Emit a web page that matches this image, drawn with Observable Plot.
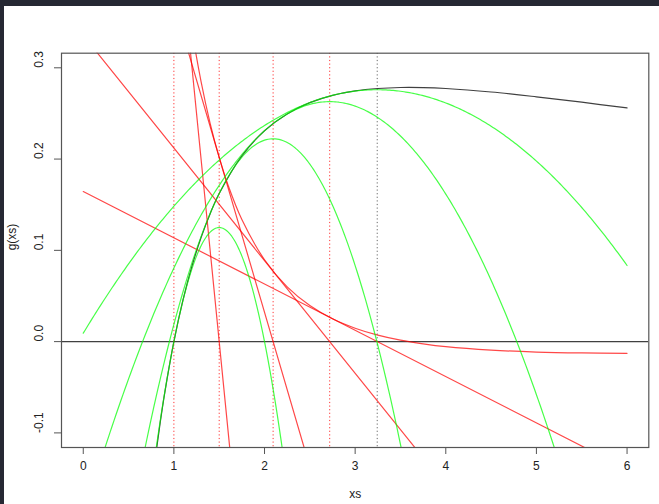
<!DOCTYPE html>
<html><head><meta charset="utf-8">
<script src="https://cdn.jsdelivr.net/npm/d3@7"></script>
<script src="https://cdn.jsdelivr.net/npm/@observablehq/plot@0.6"></script>
<style>
html,body{margin:0;padding:0;background:#262833;width:659px;height:504px;overflow:hidden}
#paper{position:absolute;left:4px;top:6px;right:0;bottom:0;background:#fff}
#chart{position:absolute;left:0;top:0}
</style></head><body><div id="paper"></div><div id="chart"></div>
<script>
// axis ticks
const xTicks = [0, 1, 2, 3, 4, 5, 6];
const yTicks = [-0.1, 0, 0.1, 0.2, 0.3];
const yTickLabels = ["-0.1", "0.0", "0.1", "0.2", "0.3"];

// black curve g(xs)
const gX = [0.75, 0.8, 0.85, 0.9, 1.0, 1.1, 1.2, 1.3, 1.4, 1.5, 1.75, 2.0, 2.25, 2.5, 2.75, 3.0, 3.25, 3.5, 3.75, 4.0, 4.5, 5.0, 5.5, 6.0];
const gY = [-0.1644, -0.1240, -0.0879, -0.0555, 0, 0.0454, 0.0829, 0.1141, 0.1402, 0.1622, 0.2035, 0.2311, 0.2495, 0.2618, 0.2698, 0.2747, 0.2773, 0.2784, 0.2783, 0.2773, 0.2735, 0.2682, 0.2623, 0.2560];

// red curve g'(xs)
const dgX = [1.1, 1.2, 1.3, 1.4, 1.5, 1.6, 1.75, 2.0, 2.25, 2.5, 2.75, 3.0, 3.25, 3.5, 3.75, 4.0, 4.5, 5.0, 5.5, 6.0];
const dgY = [0.4113, 0.3411, 0.2849, 0.2392, 0.2018, 0.1709, 0.1338, 0.0897, 0.0600, 0.0395, 0.0250, 0.0147, 0.0071, 0.0016, -0.0024, -0.0055, -0.0093, -0.0114, -0.0124, -0.0128];

// Newton iterates and local values g, g', g'' at each
const iterX = [1, 1.5, 2.0949, 2.7191, 3.2436];
const iterG = [0, 0.1622, 0.2389, 0.2690];
const iterDG = [0.5, 0.2018, 0.0770, 0.0266];
const iterD2G = [-1, -0.3392, -0.1234, -0.0507];

const xDom = [-0.24, 6.24];
const yDom = [-0.116, 0.316];

// tangent lines to g' and quadratic approximations of g, from the iterate values
const tangents = [];
const quads = [];
for (let n = 0; n < iterG.length; n++) {
  for (const x of [0, 6]) tangents.push({n, x, y: iterDG[n] + iterD2G[n] * (x - iterX[n])});
  for (let k = 0; k <= 300; k++) {
    const x = k * 0.02, h = x - iterX[n];
    quads.push({n, x, y: iterG[n] + iterDG[n] * h + 0.5 * iterD2G[n] * h * h});
  }
}
const gData = gX.map((x, i) => ({x, y: gY[i]}));
const dgData = dgX.map((x, i) => ({x, y: dgY[i]}));

const chart = Plot.plot({
  width: 659, height: 504,
  marginLeft: 61, marginRight: 10.7, marginTop: 52.7, marginBottom: 57,
  style: {background: "transparent", fontFamily: "'Liberation Sans', Arial, sans-serif", fontSize: "12px", color: "#222"},
  x: {domain: xDom, axis: null},
  y: {domain: yDom, axis: null},
  marks: [
    Plot.line(gData, {x: "x", y: "y", stroke: "#000", strokeOpacity: 0.75, strokeWidth: 1.2, curve: "catmull-rom", clip: true}),
    Plot.ruleY([0], {stroke: "#000", strokeOpacity: 0.75, strokeWidth: 1.2, clip: true}),
    Plot.ruleX(iterX, {x: d => d, stroke: (d, i) => i < 4 ? "#ff0000" : "#444", strokeOpacity: 0.8, strokeWidth: 1, strokeDasharray: "1.2,2.4", clip: true}),
    Plot.line(dgData, {x: "x", y: "y", stroke: "#ff0000", strokeOpacity: 0.72, strokeWidth: 1.2, curve: "catmull-rom", clip: true}),
    Plot.line(tangents, {x: "x", y: "y", z: "n", stroke: "#ff0000", strokeOpacity: 0.72, strokeWidth: 1.2, clip: true}),
    Plot.line(quads, {x: "x", y: "y", z: "n", stroke: "#00ff00", strokeOpacity: 0.72, strokeWidth: 1.2, clip: true}),
    Plot.frame({stroke: "#555", strokeWidth: 1.2}),
    Plot.ruleX(xTicks, {x: d => d, y1: yDom[0], y2: yDom[0], insetBottom: -7, stroke: "#555"}),
    Plot.ruleY(yTicks, {y: d => d, x1: xDom[0], x2: xDom[0], insetLeft: -7, stroke: "#555"}),
    Plot.text(xTicks, {x: d => d, frameAnchor: "bottom", dy: 22, text: d => String(d), fill: "#222"}),
    Plot.text(yTicks, {y: d => d, frameAnchor: "left", dx: -22, rotate: -90, text: (d, i) => yTickLabels[i], fill: "#222"}),
    Plot.text(["xs"], {frameAnchor: "bottom", dy: 50, text: d => d, fill: "#222"}),
    Plot.text(["g(xs)"], {frameAnchor: "left", dx: -49, rotate: -90, text: d => d, fill: "#222"})
  ]
});
document.getElementById("chart").appendChild(chart);
</script></body></html>
